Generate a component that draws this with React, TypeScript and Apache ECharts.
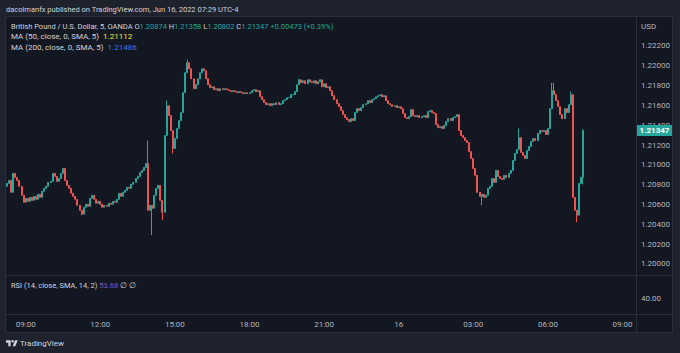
import React, { useEffect, useRef } from "react";
import * as echarts from "echarts";

// 5-minute GBPUSD candles, first bar 15 Jun 08:15
const firstOpen = 1.20783;
const closes = [
  1.20813, 1.20843, 1.20723, 1.20914, 1.20873, 1.20843, 1.20783, 1.20693, 1.20622, 1.20662,
  1.20632, 1.20672, 1.20642, 1.20682, 1.20652, 1.20703, 1.20672, 1.20733, 1.20763, 1.20783,
  1.20823, 1.20833, 1.20914, 1.20883, 1.20833, 1.20863, 1.20914, 1.20964, 1.20843, 1.20793,
  1.20763, 1.20713, 1.20682, 1.20652, 1.20592, 1.20542, 1.20502, 1.20572, 1.20602, 1.20582,
  1.20662, 1.20693, 1.20652, 1.20612, 1.20632, 1.20602, 1.20572, 1.20592, 1.20582, 1.20612,
  1.20602, 1.20632, 1.20622, 1.20652, 1.20713, 1.20682, 1.20723, 1.20743, 1.20773, 1.20763,
  1.20803, 1.20823, 1.20863, 1.20883, 1.20924, 1.20944, 1.20974, 1.21014, 1.20542, 1.20592,
  1.20562, 1.20693, 1.20763, 1.20793, 1.20642, 1.20522, 1.21296, 1.21597, 1.21497, 1.21346,
  1.21165, 1.21265, 1.21366, 1.21446, 1.21527, 1.21728, 1.21929, 1.22029, 1.21969, 1.21868,
  1.21768, 1.21808, 1.21868, 1.21929, 1.21969, 1.21949, 1.21868, 1.21808, 1.21778, 1.21788,
  1.21758, 1.21768, 1.21748, 1.21768, 1.21758, 1.21768, 1.21758, 1.21748, 1.21738, 1.21748,
  1.21738, 1.21728, 1.21738, 1.21728, 1.21718, 1.21728, 1.21718, 1.21728, 1.21748, 1.21758,
  1.21738, 1.21748, 1.21687, 1.21657, 1.21627, 1.21607, 1.21617, 1.21597, 1.21617, 1.21607,
  1.21627, 1.21607, 1.21617, 1.21647, 1.21657, 1.21677, 1.21677, 1.21708, 1.21708, 1.21738,
  1.21808, 1.21858, 1.21828, 1.21848, 1.21818, 1.21858, 1.21838, 1.21828, 1.21848, 1.21818,
  1.21838, 1.21858, 1.21788, 1.21818, 1.21778, 1.21788, 1.21748, 1.21698, 1.21657, 1.21617,
  1.21587, 1.21547, 1.21507, 1.21476, 1.21456, 1.21436, 1.21466, 1.21446, 1.21527, 1.21567,
  1.21547, 1.21577, 1.21607, 1.21617, 1.21647, 1.21627, 1.21657, 1.21667, 1.21687, 1.21698,
  1.21708, 1.21687, 1.21698, 1.21647, 1.21617, 1.21607, 1.21587, 1.21597, 1.21577, 1.21587,
  1.21567, 1.21517, 1.21476, 1.21466, 1.21486, 1.21557, 1.21497, 1.21486, 1.21497, 1.21476,
  1.21486, 1.21497, 1.21476, 1.21537, 1.21547, 1.21527, 1.21517, 1.21406, 1.21376, 1.21386,
  1.21366, 1.21396, 1.21436, 1.21466, 1.21446, 1.21476, 1.21486, 1.21507, 1.21346, 1.21296,
  1.21275, 1.21245, 1.21225, 1.21135, 1.21064, 1.20964, 1.20894, 1.20723, 1.20682, 1.20703,
  1.20672, 1.20693, 1.20763, 1.20783, 1.20863, 1.20823, 1.20944, 1.20883, 1.20863, 1.20853,
  1.20894, 1.20873, 1.20914, 1.20944, 1.21044, 1.21115, 1.21155, 1.21275, 1.21125, 1.21095,
  1.21064, 1.21145, 1.21185, 1.21235, 1.21265, 1.21245, 1.21316, 1.21346, 1.21336, 1.21346,
  1.21306, 1.21366, 1.21567, 1.21748, 1.21708, 1.21647, 1.21587, 1.21507, 1.21466, 1.21567,
  1.21527, 1.21607, 1.21708, 1.20672, 1.20542, 1.20492, 1.20813, 1.20874, 1.21347,
];
// notable wick extremes (bar index -> price)
const wickHighs: Record<number, number> = {
  68: 1.21245, 77: 1.21647, 87: 1.22059, 141: 1.21868, 247: 1.21366,
  263: 1.21828, 264: 1.21828, 272: 1.21738, 278: 1.21358,
};
const wickLows: Record<number, number> = {
  36: 1.20492, 70: 1.20291, 75: 1.20441, 80: 1.21115, 229: 1.20592,
  275: 1.20421, 278: 1.20802,
};

const priceTicks = [1.2, 1.202, 1.204, 1.206, 1.208, 1.21, 1.212, 1.214, 1.216, 1.218, 1.22, 1.222];
const rsiTicks = [40];
const lastPrice = 1.21347;
const legendOHLC = { o: "1.20874", h: "1.21358", l: "1.20802", c: "1.21347", chg: "+0.00473 (+0.39%)" };
const ma50 = "1.21112";
const ma200 = "1.21486";
const rsiValue = "53.68";

const TOTAL_SLOTS = 304;
const START_MIN = 8 * 60 + 15;

const FONT = "Roboto, 'Noto Sans', sans-serif";
const GRAY = "#b2b5be";
const TXT = "#d1d4dc";
const UP = "#26a69a";
const DOWN = "#ef5350";
const LINE = "#2a2e39";

echarts.graphic.registerShape(
  "tvlogo",
  echarts.graphic.extendPath("M14 22H7V11H0V4h14v18zM28 22h-8l7.5-18h8L28 22z", {})
);

export default function App() {
  const ref = useRef<HTMLDivElement>(null);
  useEffect(() => {
    document.body.style.margin = "0";
    const chart = echarts.init(ref.current!, null, { renderer: "svg" });

    const cats: string[] = [];
    for (let i = 0; i < TOTAL_SLOTS; i++) {
      const m = START_MIN + i * 5;
      const day = m >= 1440 ? 16 : 15;
      const mm = m % 1440;
      const hh = String(Math.floor(mm / 60)).padStart(2, "0");
      const mi = String(mm % 60).padStart(2, "0");
      cats.push(`${day} ${hh}:${mi}`);
    }
    const candles = closes.map((c, i) => {
      const o = i === 0 ? firstOpen : closes[i - 1];
      const h = wickHighs[i] ?? Math.max(o, c);
      const l = wickLows[i] ?? Math.min(o, c);
      return [o, c, l, h];
    });

    const showLabel = (_idx: number, value: string) => {
      const t = value.split(" ")[1];
      const [h, m] = t.split(":").map(Number);
      return m === 0 && h % 3 === 0;
    };
    const fmtLabel = (value: string) => {
      const [d, t] = value.split(" ");
      return t === "00:00" ? d : t;
    };

    const graphics: any[] = [
      { type: "rect", z: -10, silent: true, shape: { x: 5.5, y: 16.5, width: 667, height: 316 }, style: { fill: "#131722", stroke: LINE, lineWidth: 1 } },
      { type: "line", z: -5, silent: true, shape: { x1: 636.5, y1: 17, x2: 636.5, y2: 332 }, style: { stroke: LINE, lineWidth: 1 } },
      { type: "line", z: -5, silent: true, shape: { x1: 6, y1: 275.5, x2: 672, y2: 275.5 }, style: { stroke: LINE, lineWidth: 1 } },
      { type: "line", z: -5, silent: true, shape: { x1: 6, y1: 314.5, x2: 672, y2: 314.5 }, style: { stroke: LINE, lineWidth: 1 } },
      {
        type: "text", x: 6, y: 9, silent: true,
        style: { text: "dacolmanfx published on TradingView.com, Jun 16, 2022 07:29 UTC-4", fill: TXT, fontSize: 7.5, fontFamily: FONT, verticalAlign: "middle" },
      },
      {
        type: "text", x: 11, y: 26, silent: true,
        style: {
          text: `{g|British Pound / U.S. Dollar, 5, OANDA O}{v|${legendOHLC.o}}{g| H}{v|${legendOHLC.h}}{g| L}{v|${legendOHLC.l}}{g| C}{v|${legendOHLC.c}}{v| ${legendOHLC.chg}}`,
          fontSize: 7.5, fontFamily: FONT, verticalAlign: "middle",
          rich: { g: { fill: TXT, fontSize: 7.5, fontFamily: FONT }, v: { fill: UP, fontSize: 7.5, fontFamily: FONT } },
        },
      },
      {
        type: "text", x: 11, y: 36, silent: true,
        style: {
          text: `{g|MA (50, close, 0, SMA, 5)  }{y|${ma50}}`, fontSize: 8, fontFamily: FONT, verticalAlign: "middle",
          rich: { g: { fill: TXT, fontSize: 8, fontFamily: FONT }, y: { fill: "#f5e63c", fontSize: 8, fontFamily: FONT } },
        },
      },
      {
        type: "text", x: 11, y: 47, silent: true,
        style: {
          text: `{g|MA (200, close, 0, SMA, 5)  }{b|${ma200}}`, fontSize: 8, fontFamily: FONT, verticalAlign: "middle",
          rich: { g: { fill: TXT, fontSize: 8, fontFamily: FONT }, b: { fill: "#3a78f2", fontSize: 8, fontFamily: FONT } },
        },
      },
      {
        type: "text", x: 11, y: 285, silent: true,
        style: {
          text: `{g|RSI (14, close, SMA, 14, 2) }{p|${rsiValue}}{g| ∅ ∅}`, fontSize: 7.5, fontFamily: FONT, verticalAlign: "middle",
          rich: { g: { fill: TXT, fontSize: 7.5, fontFamily: FONT }, p: { fill: "#7e57c2", fontSize: 7.5, fontFamily: FONT } },
        },
      },
      {
        type: "text", x: 641, y: 26, silent: true,
        style: { text: "USD", fill: GRAY, fontSize: 8, fontFamily: FONT, verticalAlign: "middle" },
      },
      { type: "tvlogo", x: 6, y: 339, scaleX: 0.33, scaleY: 0.33, silent: true, style: { fill: TXT } },
      { type: "circle", silent: true, shape: { cx: 6 + 20 * 0.33, cy: 339 + 7 * 0.33, r: 1.3 }, style: { fill: TXT } },
      {
        type: "text", x: 20, y: 343, silent: true,
        style: { text: "TradingView", fill: TXT, fontSize: 8, fontFamily: FONT, verticalAlign: "middle" },
      },
    ];

    chart.setOption({
      animation: false,
      backgroundColor: "#1e222d",
      grid: [
        { left: 6, top: 17, width: 630, height: 258 },
        { left: 6, top: 276, width: 630, height: 38 },
      ],
      xAxis: [
        {
          type: "category", gridIndex: 0, data: cats, boundaryGap: true,
          axisLine: { show: false }, axisTick: { show: false }, axisLabel: { show: false },
          splitLine: { show: false },
        },
        {
          type: "category", gridIndex: 1, data: cats, boundaryGap: true,
          axisLine: { show: false }, axisTick: { show: false },
          axisLabel: {
            interval: showLabel, formatter: fmtLabel, color: GRAY, fontSize: 8,
            fontFamily: FONT, margin: 6,
          },
          splitLine: { show: false },
        },
      ],
      yAxis: [
        {
          type: "value", gridIndex: 0, position: "right", min: 1.19889, max: 1.22491,
          axisLine: { show: false }, axisTick: { show: false }, splitLine: { show: false },
          axisLabel: {
            customValues: priceTicks, formatter: (v: number) => v.toFixed(5),
            color: GRAY, fontSize: 8, fontFamily: FONT, margin: 5,
          },
        },
        {
          type: "value", gridIndex: 1, position: "right", min: 24, max: 62,
          axisLine: { show: false }, axisTick: { show: false }, splitLine: { show: false },
          axisLabel: {
            customValues: rsiTicks, formatter: (v: number) => v.toFixed(2),
            color: GRAY, fontSize: 8, fontFamily: FONT, margin: 5,
          },
        },
      ],
      series: [
        {
          type: "candlestick", xAxisIndex: 0, yAxisIndex: 0, data: candles,
          barWidth: 1.5,
          itemStyle: { color: UP, color0: DOWN, borderColor: UP, borderColor0: DOWN, borderWidth: 1 },
        },
      ],
      graphic: graphics,
    });

    // last-price tag placed through the price axis scale
    const py = chart.convertToPixel({ yAxisIndex: 0 }, lastPrice) as number;
    chart.setOption({
      graphic: [
        ...graphics,
        { type: "rect", silent: true, z: 50, shape: { x: 637, y: py - 5.5, width: 35, height: 11 }, style: { fill: UP } },
        {
          type: "text", silent: true, z: 51, x: 654.5, y: py,
          style: { text: lastPrice.toFixed(5), fill: "#ffffff", fontSize: 8, fontWeight: "bold", fontFamily: FONT, align: "center", verticalAlign: "middle" },
        },
      ],
    });
    return () => chart.dispose();
  }, []);
  return <div ref={ref} style={{ position: "fixed", left: 0, top: 0, width: 680, height: 353 }} />;
}
